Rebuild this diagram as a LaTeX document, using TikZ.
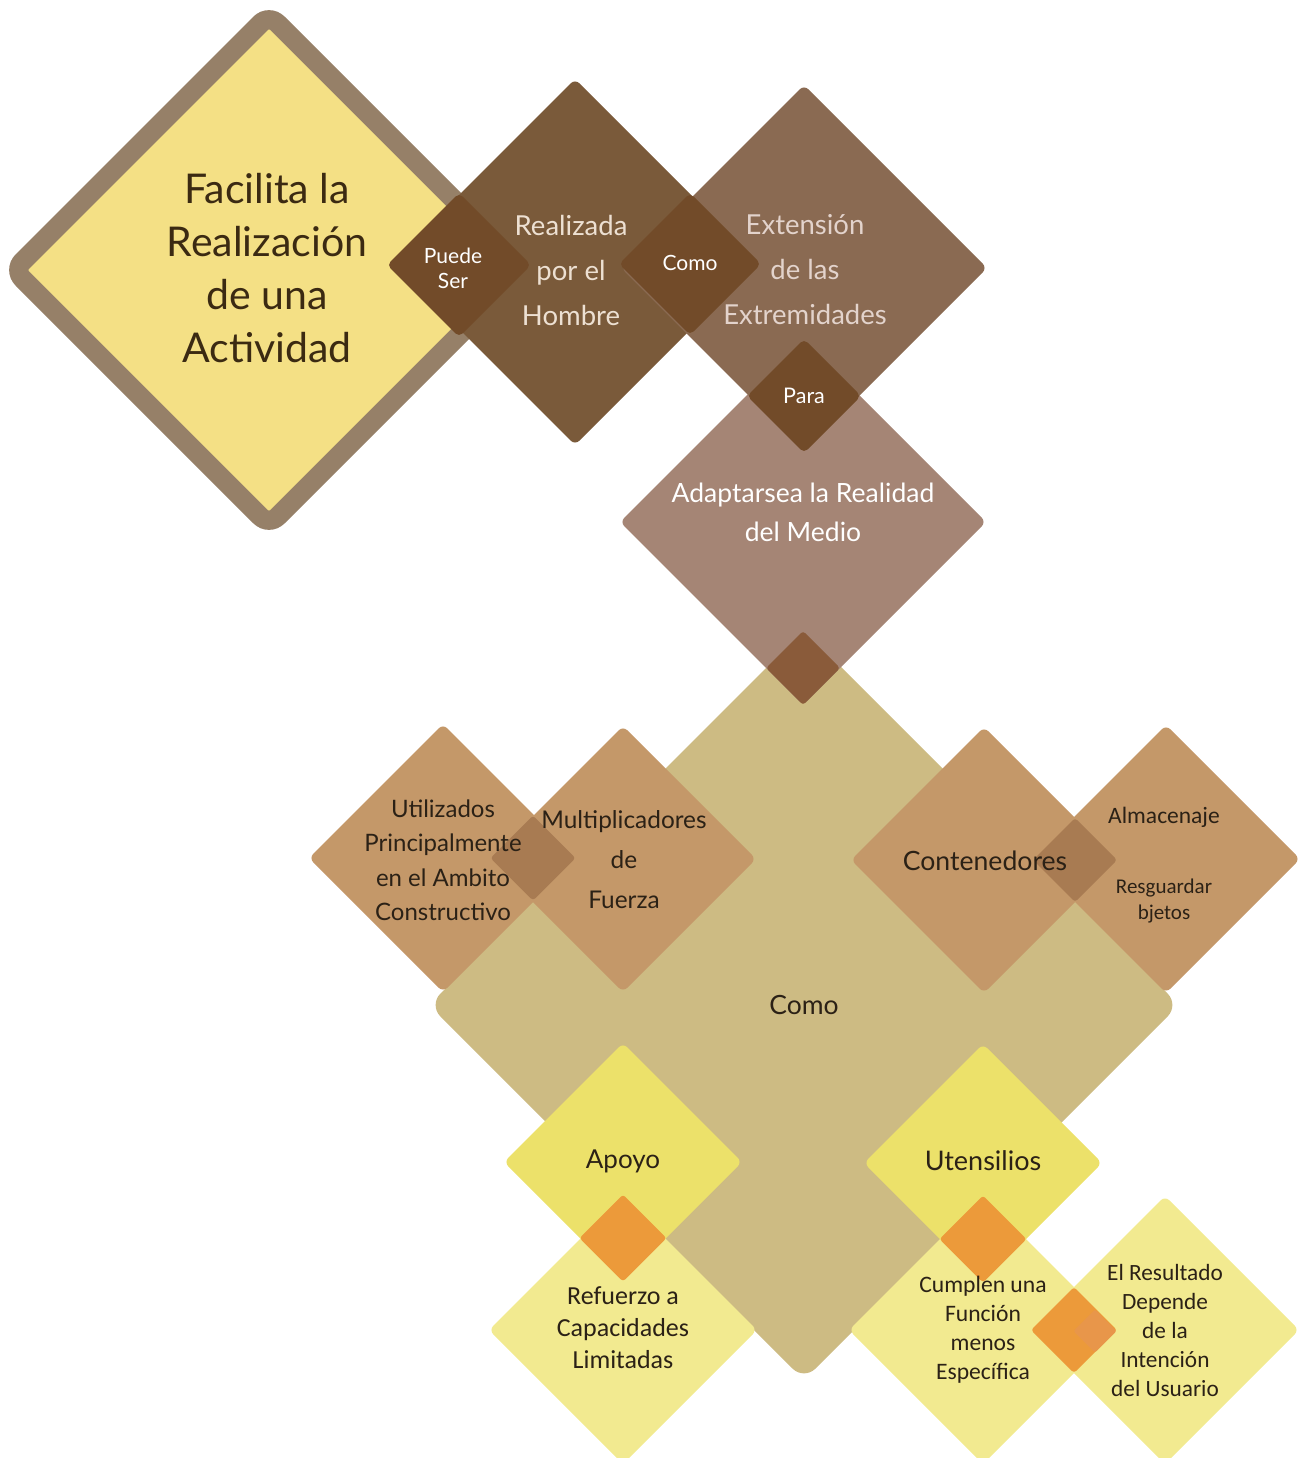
\documentclass[tikz,border=0pt]{standalone}
\usepackage{fontspec}
\setmainfont{Lato}
\newfontfamily\calib{Carlito}
\usetikzlibrary{shapes.geometric}
\definecolor{cBorder}{HTML}{968068}
\definecolor{cFac}{HTML}{F4E085}
\definecolor{cReal}{HTML}{7A5A3A}
\definecolor{cExt}{HTML}{8A6A52}
\definecolor{cSmall}{HTML}{724B29}
\definecolor{cAdap}{HTML}{A58575}
\definecolor{cOv}{HTML}{8A5B3A}
\definecolor{cKhaki}{HTML}{CDBB83}
\definecolor{cTan}{HTML}{C49869}
\definecolor{cTanOv}{HTML}{A87B52}
\definecolor{cYel}{HTML}{ECE16A}
\definecolor{cPale}{HTML}{F2EA90}
\definecolor{cOrange}{HTML}{EC9A3A}
\definecolor{cOrangeL}{HTML}{E8964A}
\definecolor{cDark}{HTML}{2B2116}
\definecolor{cFacTxt}{HTML}{3B2A12}
\definecolor{cLight}{HTML}{EDE0D2}
\definecolor{cLight2}{HTML}{E3D3CC}
\begin{document}
\begin{tikzpicture}[x=1pt,y=-1pt,
  dia/.style={diamond, aspect=1, inner sep=0pt, outer sep=0pt, minimum width=#1, minimum height=#1, rounded corners=6pt, draw=none},
  txt/.style={align=center, inner sep=0pt}]
\useasboundingbox (0,0) rectangle (1299,1458);
% background layer
\node[dia=750, fill=cKhaki, rounded corners=16pt] (como) at (804,1005) {};
\node[dia=366, fill=cAdap] (adap) at (803,522) {};
\node[dia=74, fill=cOv, rounded corners=3pt] (ovA) at (803,668) {};
% top chain
\node[dia=538, fill=cBorder, rounded corners=22pt] (facOut) at (269,270) {};
\node[dia=482, fill=cFac, rounded corners=1pt] (fac) at (269,270) {};
\node[dia=366, fill=cReal] (real) at (575,262) {};
\node[dia=366, fill=cExt] (ext) at (804,268) {};
\node[dia=144, fill=cSmall, rounded corners=5pt] (puede) at (459,265) {};
\node[dia=142, fill=cSmall, rounded corners=5pt] (comoS) at (690,264) {};
\node[dia=114, fill=cSmall, rounded corners=5pt] (para) at (804,396) {};
% tan row
\node[dia=268, fill=cTan] (util) at (443,858) {};
\node[dia=266, fill=cTan] (mult) at (623,859) {};
\node[dia=85, fill=cTanOv, rounded corners=3pt] (ovL) at (533,858) {};
\node[dia=266, fill=cTan] (cont) at (984,860) {};
\node[dia=268, fill=cTan] (alm) at (1166,859) {};
\node[dia=84, fill=cTanOv, rounded corners=3pt] (ovR) at (1075,860) {};
% yellow bottom
\node[dia=268, fill=cPale] (ref) at (623,1330) {};
\node[dia=238, fill=cYel] (apoyo) at (623,1162) {};
\node[dia=87, fill=cOrange, rounded corners=3pt] (ovY1) at (623,1238) {};
\node[dia=268, fill=cPale] (cump) at (983,1330) {};
\node[dia=268, fill=cPale] (res) at (1165,1330) {};
\node[dia=238, fill=cYel] (uten) at (983,1163) {};
\node[dia=87, fill=cOrange, rounded corners=3pt] (ovY2) at (983,1239) {};
\node[dia=86, fill=cOrange, rounded corners=3pt] (ovY3) at (1074,1330) {};
\node[dia=43, fill=cOrangeL, rounded corners=2pt] (ovY4) at (1095,1331) {};
% texts
\node[txt, text=cFacTxt, font=\fontsize{41}{53}\selectfont] (tFac) at (267,268) {Facilita la\\Realización\\de una\\Actividad};
\node[txt, text=white, font=\fontsize{21}{25}\selectfont] (tPuede) at (453,268) {Puede\\Ser};
\node[txt, text=cLight, font=\fontsize{27.5}{45}\selectfont] (tReal) at (571,270) {Realizada\\por el\\Hombre};
\node[txt, text=white, font=\fontsize{21}{24}\selectfont] (tComoS) at (690,263) {Como};
\node[txt, text=cLight2, font=\fontsize{27.5}{45}\selectfont] (tExt) at (805,270) {Extensión\\de las\\Extremidades};
\node[txt, text=white, font=\fontsize{21.5}{24}\selectfont] (tPara) at (804,396) {Para};
\node[txt, text=white, font=\fontsize{26.5}{39}\selectfont] (tAdap) at (803,512) {Adaptarsea la Realidad\\del Medio};
\node[txt, text=cDark, font=\fontsize{24}{34.5}\selectfont] (tUtil) at (443,860) {Utilizados\\Principalmente\\en el Ambito\\Constructivo};
\node[txt, text=cDark, font=\fontsize{24.4}{40}\selectfont] (tMult) at (624,860) {Multiplicadores\\de\\Fuerza};
\node[txt, text=cDark, font=\fontsize{26.6}{30}\selectfont] (tCont) at (985,861) {Contenedores};
\node[txt, text=cDark, font=\calib\fontsize{23.5}{26}\selectfont] (tAlm) at (1164,817) {Almacenaje};
\node[txt, text=cDark, font=\calib\fontsize{21}{26}\selectfont] (tResg) at (1164,901) {Resguardar\\bjetos};
\node[txt, text=cDark, font=\fontsize{26.5}{30}\selectfont] (tComo) at (804,1005) {Como};
\node[txt, text=cDark, font=\fontsize{26}{30}\selectfont] (tApoyo) at (623,1161) {Apoyo};
\node[txt, text=cDark, font=\fontsize{27}{30}\selectfont] (tUten) at (983,1161) {Utensilios};
\node[txt, text=cDark, font=\calib\fontsize{26}{32}\selectfont] (tRef) at (623,1328) {Refuerzo a\\Capacidades\\Limitadas};
\node[txt, text=cDark, font=\calib\fontsize{23.6}{29}\selectfont] (tCump) at (983,1330) {Cumplen una\\Función\\menos\\Específica};
\node[txt, text=cDark, font=\calib\fontsize{23.3}{29}\selectfont] (tRes) at (1165,1330) {El Resultado\\Depende\\de la\\Intención\\del Usuario};
\end{tikzpicture}
\end{document}
